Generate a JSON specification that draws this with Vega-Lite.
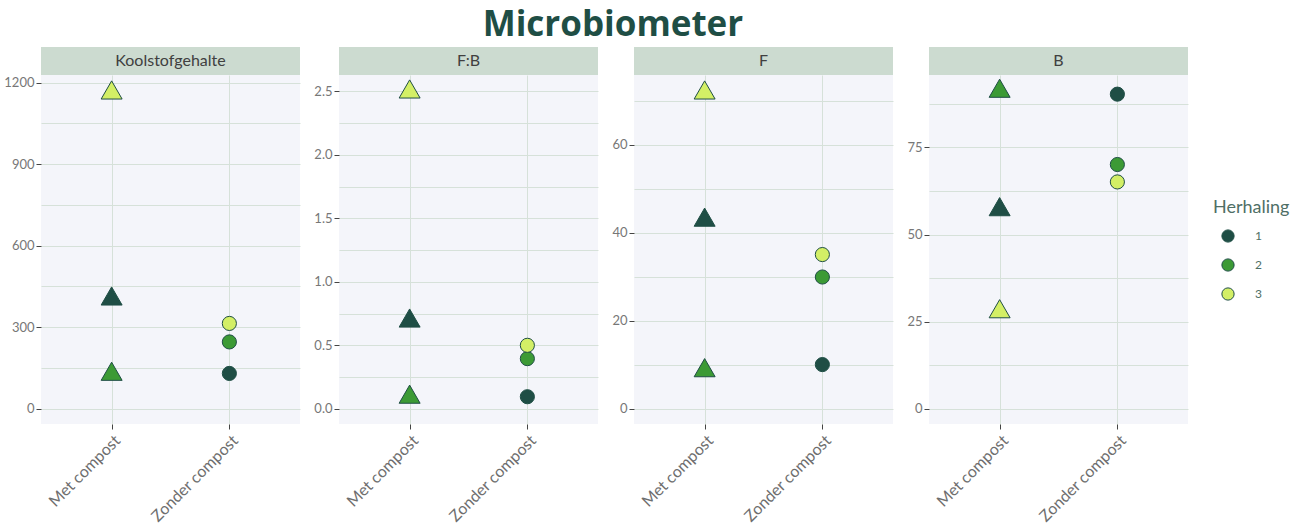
{
  "$schema": "https://vega.github.io/schema/vega-lite/v6.json",
  "background": "white",
  "padding": {"left": 3, "top": 8, "right": 5, "bottom": 5},
  "title": {"text": "Microbiometer", "font": "Open Sans", "fontSize": 35, "fontWeight": "bold", "color": "#1F4E45", "anchor": "middle", "dx": -34, "offset": 4},
  "datasets": {
    "micro": [
      {"var": "Koolstofgehalte", "treat": "Met compost", "rep": "1", "value": 415},
      {"var": "Koolstofgehalte", "treat": "Met compost", "rep": "2", "value": 138},
      {"var": "Koolstofgehalte", "treat": "Met compost", "rep": "3", "value": 1173},
      {"var": "Koolstofgehalte", "treat": "Zonder compost", "rep": "1", "value": 130},
      {"var": "Koolstofgehalte", "treat": "Zonder compost", "rep": "2", "value": 246},
      {"var": "Koolstofgehalte", "treat": "Zonder compost", "rep": "3", "value": 314},
      {"var": "F:B", "treat": "Met compost", "rep": "1", "value": 0.715},
      {"var": "F:B", "treat": "Met compost", "rep": "2", "value": 0.115},
      {"var": "F:B", "treat": "Met compost", "rep": "3", "value": 2.52},
      {"var": "F:B", "treat": "Zonder compost", "rep": "1", "value": 0.095},
      {"var": "F:B", "treat": "Zonder compost", "rep": "2", "value": 0.395},
      {"var": "F:B", "treat": "Zonder compost", "rep": "3", "value": 0.5},
      {"var": "F", "treat": "Met compost", "rep": "1", "value": 43.5},
      {"var": "F", "treat": "Met compost", "rep": "2", "value": 9.3},
      {"var": "F", "treat": "Met compost", "rep": "3", "value": 72.4},
      {"var": "F", "treat": "Zonder compost", "rep": "1", "value": 10},
      {"var": "F", "treat": "Zonder compost", "rep": "2", "value": 29.9},
      {"var": "F", "treat": "Zonder compost", "rep": "3", "value": 35},
      {"var": "B", "treat": "Met compost", "rep": "1", "value": 58},
      {"var": "B", "treat": "Met compost", "rep": "2", "value": 92},
      {"var": "B", "treat": "Met compost", "rep": "3", "value": 28.7},
      {"var": "B", "treat": "Zonder compost", "rep": "1", "value": 90.3},
      {"var": "B", "treat": "Zonder compost", "rep": "2", "value": 70.1},
      {"var": "B", "treat": "Zonder compost", "rep": "3", "value": 65.1}
    ]
  },
  "hconcat": [
    {
      "spacing": 0,
      "vconcat": [
        {
          "width": 259, "height": 28,
          "view": {"fill": "#CCDBD0", "stroke": null},
          "data": {"values": [{"label": "Koolstofgehalte"}]},
          "mark": {"type": "text", "fontSize": 16, "color": "#404040"},
          "encoding": {"text": {"field": "label"}}
        },
        {
          "width": 259, "height": 349,
          "view": {"fill": "#F4F5FA", "stroke": null},
          "data": {"name": "micro"},
          "transform": [{"filter": "datum.var === 'Koolstofgehalte'"}],
          "mark": {"type": "point", "filled": true, "stroke": "#1F4E45", "strokeWidth": 1, "opacity": 1},
          "encoding": {
            "x": {"field": "treat", "type": "nominal", "title": null, "scale": {"type": "point", "padding": 0.6}},
            "y": {"field": "value", "type": "quantitative", "title": null,
                  "scale": {"domain": [-56, 1228], "nice": false, "zero": false},
                  "axis": {"values": [0, 150, 300, 450, 600, 750, 900, 1050, 1200],
                           "format": "d",
                           "labelExpr": "datum.value % 300 == 0 ? datum.label : ''",
                           "tickOpacity": {"condition": {"test": "datum.value % 300 != 0", "value": 0}, "value": 1}}},
            "color": {"field": "rep", "type": "nominal", "title": "Herhaling", "scale": {"domain": ["1", "2", "3"], "range": ["#1F4E45", "#3C9A35", "#D3EF66"]}},
            "shape": {"field": "treat", "type": "nominal", "scale": {"domain": ["Met compost", "Zonder compost"], "range": ["triangle-up", "circle"]}, "legend": null},
            "size": {"field": "treat", "type": "ordinal", "scale": {"domain": ["Met compost", "Zonder compost"], "range": [440, 200]}, "legend": null}
          }
        }
      ]
    },
    {
      "spacing": 0,
      "vconcat": [
        {
          "width": 259, "height": 28,
          "view": {"fill": "#CCDBD0", "stroke": null},
          "data": {"values": [{"label": "F:B"}]},
          "mark": {"type": "text", "fontSize": 16, "color": "#404040"},
          "encoding": {"text": {"field": "label"}}
        },
        {
          "width": 259, "height": 349,
          "view": {"fill": "#F4F5FA", "stroke": null},
          "data": {"name": "micro"},
          "transform": [{"filter": "datum.var === 'F:B'"}],
          "mark": {"type": "point", "filled": true, "stroke": "#1F4E45", "strokeWidth": 1, "opacity": 1},
          "encoding": {
            "x": {"field": "treat", "type": "nominal", "title": null, "scale": {"type": "point", "padding": 0.6}},
            "y": {"field": "value", "type": "quantitative", "title": null,
                  "scale": {"domain": [-0.12, 2.63], "nice": false, "zero": false},
                  "axis": {"values": [0, 0.25, 0.5, 0.75, 1, 1.25, 1.5, 1.75, 2, 2.25, 2.5],
                           "format": ".1f",
                           "labelExpr": "datum.value % 0.5 == 0 ? datum.label : ''",
                           "tickOpacity": {"condition": {"test": "datum.value % 0.5 != 0", "value": 0}, "value": 1}}},
            "color": {"field": "rep", "type": "nominal", "title": "Herhaling", "scale": {"domain": ["1", "2", "3"], "range": ["#1F4E45", "#3C9A35", "#D3EF66"]}},
            "shape": {"field": "treat", "type": "nominal", "scale": {"domain": ["Met compost", "Zonder compost"], "range": ["triangle-up", "circle"]}, "legend": null},
            "size": {"field": "treat", "type": "ordinal", "scale": {"domain": ["Met compost", "Zonder compost"], "range": [440, 200]}, "legend": null}
          }
        }
      ]
    },
    {
      "spacing": 0,
      "vconcat": [
        {
          "width": 259, "height": 28,
          "view": {"fill": "#CCDBD0", "stroke": null},
          "data": {"values": [{"label": "F"}]},
          "mark": {"type": "text", "fontSize": 16, "color": "#404040"},
          "encoding": {"text": {"field": "label"}}
        },
        {
          "width": 259, "height": 349,
          "view": {"fill": "#F4F5FA", "stroke": null},
          "data": {"name": "micro"},
          "transform": [{"filter": "datum.var === 'F'"}],
          "mark": {"type": "point", "filled": true, "stroke": "#1F4E45", "strokeWidth": 1, "opacity": 1},
          "encoding": {
            "x": {"field": "treat", "type": "nominal", "title": null, "scale": {"type": "point", "padding": 0.6}},
            "y": {"field": "value", "type": "quantitative", "title": null,
                  "scale": {"domain": [-3.5, 75.8], "nice": false, "zero": false},
                  "axis": {"values": [0, 10, 20, 30, 40, 50, 60, 70],
                           "labelExpr": "datum.value % 20 == 0 ? datum.label : ''",
                           "tickOpacity": {"condition": {"test": "datum.value % 20 != 0", "value": 0}, "value": 1}}},
            "color": {"field": "rep", "type": "nominal", "title": "Herhaling", "scale": {"domain": ["1", "2", "3"], "range": ["#1F4E45", "#3C9A35", "#D3EF66"]}},
            "shape": {"field": "treat", "type": "nominal", "scale": {"domain": ["Met compost", "Zonder compost"], "range": ["triangle-up", "circle"]}, "legend": null},
            "size": {"field": "treat", "type": "ordinal", "scale": {"domain": ["Met compost", "Zonder compost"], "range": [440, 200]}, "legend": null}
          }
        }
      ]
    },
    {
      "spacing": 0,
      "vconcat": [
        {
          "width": 259, "height": 28,
          "view": {"fill": "#CCDBD0", "stroke": null},
          "data": {"values": [{"label": "B"}]},
          "mark": {"type": "text", "fontSize": 16, "color": "#404040"},
          "encoding": {"text": {"field": "label"}}
        },
        {
          "width": 259, "height": 349,
          "view": {"fill": "#F4F5FA", "stroke": null},
          "data": {"name": "micro"},
          "transform": [{"filter": "datum.var === 'B'"}],
          "mark": {"type": "point", "filled": true, "stroke": "#1F4E45", "strokeWidth": 1, "opacity": 1},
          "encoding": {
            "x": {"field": "treat", "type": "nominal", "title": null, "scale": {"type": "point", "padding": 0.6}},
            "y": {"field": "value", "type": "quantitative", "title": null,
                  "scale": {"domain": [-4.4, 95.8], "nice": false, "zero": false},
                  "axis": {"values": [0, 12.5, 25, 37.5, 50, 62.5, 75, 87.5],
                           "labelExpr": "datum.value % 25 == 0 ? datum.label : ''",
                           "tickOpacity": {"condition": {"test": "datum.value % 25 != 0", "value": 0}, "value": 1}}},
            "color": {"field": "rep", "type": "nominal", "title": "Herhaling", "scale": {"domain": ["1", "2", "3"], "range": ["#1F4E45", "#3C9A35", "#D3EF66"]}},
            "shape": {"field": "treat", "type": "nominal", "scale": {"domain": ["Met compost", "Zonder compost"], "range": ["triangle-up", "circle"]}, "legend": null},
            "size": {"field": "treat", "type": "ordinal", "scale": {"domain": ["Met compost", "Zonder compost"], "range": [440, 200]}, "legend": null}
          }
        }
      ]
    }
  ],
  "config": {
    "font": "Lato",
    "view": {"stroke": null},
    "concat": {"spacing": 13},
    "axis": {"domain": false, "grid": true, "gridColor": "#D6E1D9", "gridWidth": 1, "tickColor": "#444444", "tickSize": 5, "labelColor": "#777777", "labelFontSize": 13, "labelPadding": 2},
    "axisX": {"labelAngle": -45, "labelFontSize": 16, "labelColor": "#6E6E6E", "labelPadding": 3},
    "legend": {
      "orient": "none", "legendX": 1172, "legendY": 152,
      "titleFontSize": 18, "titleFontWeight": "normal", "titleColor": "#4F6F66", "titlePadding": 12,
      "labelFontSize": 12, "labelColor": "#4F6F66", "labelOffset": 20, "symbolOffset": 8,
      "symbolType": "circle", "symbolSize": 150, "symbolStrokeColor": "#1F4E45", "symbolStrokeWidth": 1, "symbolOpacity": 1,
      "rowPadding": 11, "offset": 0
    }
  }
}
